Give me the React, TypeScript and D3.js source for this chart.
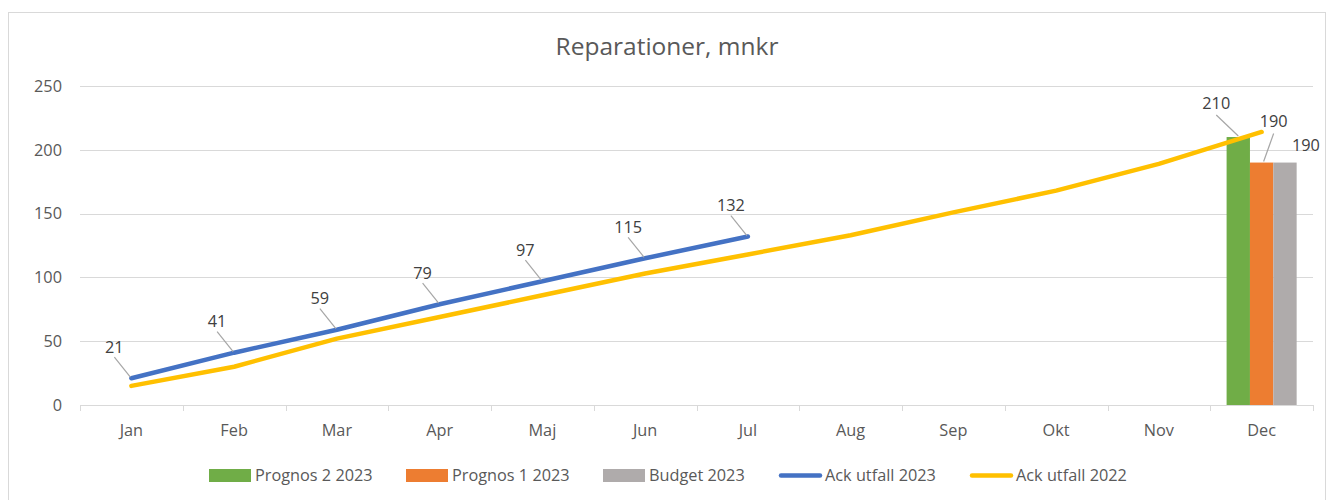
import React from "react";
import * as d3 from "d3";

const MONTHS = ["Jan", "Feb", "Mar", "Apr", "Maj", "Jun", "Jul", "Aug", "Sep", "Okt", "Nov", "Dec"];
const ACK_2023 = [21, 41, 59, 79, 97, 115, 132];
const ACK_2022 = [15, 30, 52, 69, 86, 103, 118, 133, 151, 168, 189, 214];
const BAR_SERIES = ["Prognos 2 2023", "Prognos 1 2023", "Budget 2023"];
const BAR_VALUES = [210, 190, 190];
const BAR_MONTH = "Dec";
const Y_TICKS = [0, 50, 100, 150, 200, 250];
const TITLE = "Reparationer, mnkr";

const COLORS = {
  green: "#70AD47",
  orange: "#ED7D31",
  grey: "#AFABAB",
  blue: "#4472C4",
  yellow: "#FFC000",
};
const BAR_COLORS = [COLORS.green, COLORS.orange, COLORS.grey];
// label offsets for bar data labels (relative to bar top centre), [dx, dy, leader]
const BAR_LABEL_OFFSETS: [number, number, boolean][] = [
  [-22, -34, true],
  [12, -41, true],
  [21, -17, false],
];

const W = 1332;
const H = 500;
const FONT = "'Open Sans', Lato, sans-serif";
const FS = 16.3;

export default function App() {
  const left = 80;
  const right = 1313;
  const top = 86;
  const bottom = 405;

  const x = d3.scaleBand<string>().domain(MONTHS).range([left, right]).padding(0);
  const y = d3.scaleLinear().domain([0, 250]).range([bottom, top]);
  const bw = x.bandwidth();
  const barW = bw / (3 + 1.4);
  const groupStart = (x(BAR_MONTH) as number) + (bw - 3 * barW) / 2;

  const cx = (i: number) => (x(MONTHS[i]) as number) + bw / 2;
  const line = d3
    .line<number>()
    .x((_, i) => cx(i))
    .y((d) => y(d));

  const legendItems = [
    { label: BAR_SERIES[0], color: COLORS.green, type: "rect", x: 209 },
    { label: BAR_SERIES[1], color: COLORS.orange, type: "rect", x: 406 },
    { label: BAR_SERIES[2], color: COLORS.grey, type: "rect", x: 603 },
    { label: "Ack utfall 2023", color: COLORS.blue, type: "line", x: 779 },
    { label: "Ack utfall 2022", color: COLORS.yellow, type: "line", x: 970 },
  ];

  return (
    <svg
      width={W}
      height={H}
      style={{ position: "absolute", left: 0, top: 0, background: "#fff" }}
      fontFamily={FONT}
    >
      <rect x={8.5} y={12.5} width={1317} height={500} fill="#fff" stroke="#D9D9D9" strokeWidth={1} />
      <text x={667} y={55} textAnchor="middle" fontSize={24.5} fill="#595959">
        {TITLE}
      </text>

      {/* gridlines */}
      {Y_TICKS.map((t) => (
        <g key={t}>
          {t > 0 && (
            <line x1={left} x2={right} y1={Math.round(y(t)) + 0.5} y2={Math.round(y(t)) + 0.5} stroke="#D9D9D9" strokeWidth={1} />
          )}
          <text x={62} y={y(t)} dy="0.35em" textAnchor="end" fontSize={FS} fill="#595959">
            {t}
          </text>
        </g>
      ))}
      {/* x axis */}
      <line x1={left} x2={right} y1={Math.round(y(0)) + 0.5} y2={Math.round(y(0)) + 0.5} stroke="#D9D9D9" strokeWidth={1} />
      {MONTHS.map((m) => (
        <line
          key={"t" + m}
          x1={Math.round(x(m) as number) + 0.5}
          x2={Math.round(x(m) as number) + 0.5}
          y1={y(0)}
          y2={y(0) + 6}
          stroke="#D9D9D9"
        />
      ))}
      <line x1={right + 0.5} x2={right + 0.5} y1={y(0)} y2={y(0) + 6} stroke="#D9D9D9" />
      {MONTHS.map((m, i) => (
        <text key={"l" + m} x={cx(i)} y={430} dy="0.35em" textAnchor="middle" fontSize={FS} fill="#595959">
          {m}
        </text>
      ))}

      {/* bars */}
      {BAR_VALUES.map((v, i) => (
        <rect
          key={"b" + i}
          x={groupStart + i * barW}
          y={y(v)}
          width={barW}
          height={y(0) - y(v)}
          fill={BAR_COLORS[i]}
        />
      ))}

      {/* lines */}
      <path d={line(ACK_2022) as string} fill="none" stroke={COLORS.yellow} strokeWidth={4.5} strokeLinejoin="round" strokeLinecap="round" />
      <path d={line(ACK_2023) as string} fill="none" stroke={COLORS.blue} strokeWidth={4.5} strokeLinejoin="round" strokeLinecap="round" />

      {/* line labels */}
      {ACK_2023.map((v, i) => {
        const px = cx(i);
        const py = y(v);
        return (
          <g key={"dl" + i}>
            <line x1={px - 17} y1={py - 21} x2={px - 1} y2={py - 1} stroke="#A6A6A6" strokeWidth={1.2} />
            <text x={px - 17} y={py - 31} dy="0.35em" textAnchor="middle" fontSize={FS} fill="#404040">
              {v}
            </text>
          </g>
        );
      })}

      {/* bar labels */}
      {BAR_VALUES.map((v, i) => {
        const px = groupStart + i * barW + barW / 2;
        const py = y(v);
        const [dx, dy, leader] = BAR_LABEL_OFFSETS[i];
        return (
          <g key={"bl" + i}>
            {leader && (
              <line
                x1={px + dx}
                y1={py + dy + 12}
                x2={px + (dx > 0 ? 2 : 0)}
                y2={py - 1}
                stroke="#A6A6A6"
                strokeWidth={1.2}
              />
            )}
            <text x={px + dx} y={py + dy} dy="0.35em" textAnchor="middle" fontSize={FS} fill="#404040">
              {v}
            </text>
          </g>
        );
      })}

      {/* legend */}
      {legendItems.map((it) => (
        <g key={it.label}>
          {it.type === "rect" ? (
            <rect x={it.x} y={469} width={42} height={13} fill={it.color} />
          ) : (
            <line x1={it.x + 2} x2={it.x + 41} y1={475.5} y2={475.5} stroke={it.color} strokeWidth={4.5} strokeLinecap="round" />
          )}
          <text x={it.x + 46} y={475.5} dy="0.35em" fontSize={FS} fill="#595959">
            {it.label}
          </text>
        </g>
      ))}
    </svg>
  );
}
